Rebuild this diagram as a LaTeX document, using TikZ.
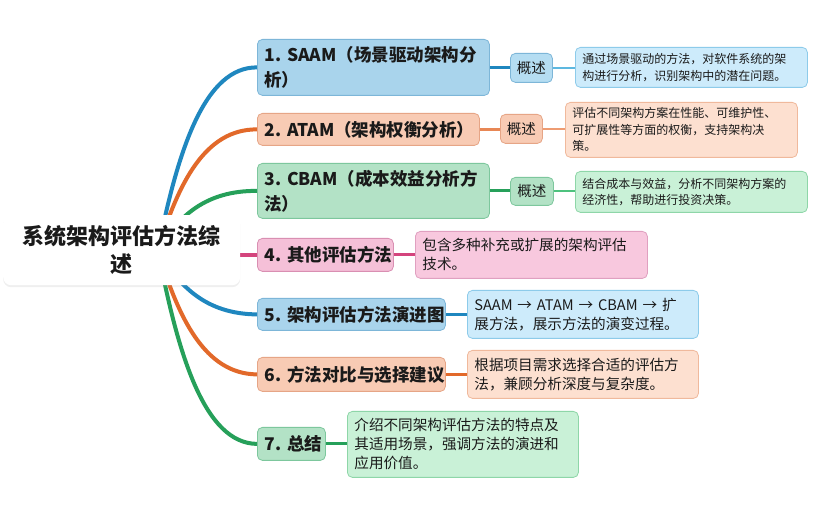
\documentclass[tikz,border=0pt]{standalone}
\usepackage{fontspec}
\setmainfont{Noto Sans CJK SC}
\usetikzlibrary{shadows}
\pgfdeclarelayer{background}
\pgfdeclarelayer{paper}
\pgfsetlayers{paper,background,main}
\definecolor{txt}{HTML}{1A1A1A}
\definecolor{bBr}{HTML}{1F87BF}
\definecolor{bF1}{HTML}{A9D4EC}
\definecolor{bD1}{HTML}{7DB6D8}
\definecolor{bF2}{HTML}{B5DDF2}
\definecolor{bF3}{HTML}{CDEBFB}
\definecolor{bD3}{HTML}{8DCBEA}
\definecolor{bLt}{HTML}{5DB8E0}
\definecolor{oBr}{HTML}{E2692A}
\definecolor{oF1}{HTML}{F8CBB4}
\definecolor{oD1}{HTML}{E6A586}
\definecolor{oF3}{HTML}{FDE0D0}
\definecolor{oD3}{HTML}{F0B99C}
\definecolor{oLt}{HTML}{EE9C72}
\definecolor{gBr}{HTML}{26A05A}
\definecolor{gF1}{HTML}{B3E2C6}
\definecolor{gD1}{HTML}{7DC79D}
\definecolor{gF3}{HTML}{C9F1D7}
\definecolor{gD3}{HTML}{8ED6A8}
\definecolor{gLt}{HTML}{4EC27E}
\definecolor{pBr}{HTML}{D4447D}
\definecolor{pF1}{HTML}{F5C0D8}
\definecolor{pD1}{HTML}{D98FB2}
\definecolor{pF3}{HTML}{F8C8DE}
\definecolor{pD3}{HTML}{E0A0C0}
\begin{document}
\begin{tikzpicture}[x=1pt,y=-1pt,
  box/.style={anchor=north west, rounded corners=5pt, inner xsep=7pt, inner ysep=0pt,
    align=left, text=txt, line width=0.8pt},
  lone/.style={box, font=\fontsize{17.5}{25}\selectfont\bfseries},
  gai/.style={box, inner xsep=0pt, align=center, font=\fontsize{14.5}{18}\selectfont},
  dsm/.style={box, font=\fontsize{12}{16.5}\selectfont},
  dlg/.style={box, font=\fontsize{14.6}{19}\selectfont},
  br/.style={line width=4pt, line cap=round},
  thk/.style={line width=3pt},
  thn/.style={line width=2pt},
]
\useasboundingbox (0,0) rectangle (828,518);
\begin{pgfonlayer}{paper}
\fill[white] (0,0) rectangle (828,518);
\end{pgfonlayer}

% root
\node[anchor=north west, fill=white, rounded corners=8pt, inner sep=0pt,
  drop shadow={opacity=0.12, shadow xshift=0pt, shadow yshift=-2pt},
  text width=237pt, minimum height=70pt, align=center, text=txt,
  font=\fontsize{22}{28}\selectfont\bfseries] (root) at (3,215) {系统架构评估方法综\\述};
\coordinate (o) at (158,250);

% level 1
\node[lone, fill=bF1, draw=bD1, text width=218pt, minimum height=56pt] (n1) at (257,39) {1.~SAAM（场景驱动架构分\\析）};
\node[lone, fill=oF1, draw=oD1, text width=208pt, minimum height=32pt] (n2) at (257,113) {2.~ATAM（架构权衡分析）};
\node[lone, fill=gF1, draw=gD1, text width=218pt, minimum height=55pt] (n3) at (257,163) {3.~CBAM（成本效益分析方\\法）};
\node[lone, fill=pF1, draw=pD1, text width=122pt, minimum height=33pt] (n4) at (257,238) {4.~其他评估方法};
\node[lone, fill=bF1, draw=bD1, text width=174pt, minimum height=32pt] (n5) at (257,298) {5.~架构评估方法演进图};
\node[lone, fill=oF1, draw=oD1, text width=174pt, minimum height=34pt] (n6) at (257,357) {6.~方法对比与选择建议};
\node[lone, fill=gF1, draw=gD1, text width=54pt, minimum height=33pt] (n7) at (257,427) {7.~总结};

% overview nodes
\node[gai, fill=bF2, draw=bD1, text width=42pt, minimum height=29pt] (g1) at (510,53) {概述};
\node[gai, fill=oF1, draw=oD1, text width=42pt, minimum height=29pt] (g2) at (500,114) {概述};
\node[gai, fill=gF1, draw=gD1, text width=43pt, minimum height=28pt] (g3) at (510,177) {概述};

% descriptions
\node[dsm, fill=bF3, draw=bD3, text width=218pt, minimum height=40pt] (d1) at (575,47) {通过场景驱动的方法，对软件系统的架\\构进行分析，识别架构中的潜在问题。};
\node[dsm, fill=oF3, draw=oD3, text width=218pt, minimum height=55pt] (d2) at (565,102) {评估不同架构方案在性能、可维护性、\\可扩展性等方面的权衡，支持架构决\\策。};
\node[dsm, fill=gF3, draw=gD3, text width=218pt, minimum height=41pt] (d3) at (575,171) {结合成本与效益，分析不同架构方案的\\经济性，帮助进行投资决策。};
\node[dlg, fill=pF3, draw=pD3, text width=218pt, minimum height=47pt] (d4) at (415,231) {包含多种补充或扩展的架构评估\\技术。};
\node[dlg, fill=bF3, draw=bD3, text width=217pt, minimum height=48pt] (d5) at (467,290) {SAAM~→~ATAM~→~CBAM~→~扩\\展方法，展示方法的演变过程。};
\node[dlg, fill=oF3, draw=oD3, text width=217pt, minimum height=48pt] (d6) at (467,350) {根据项目需求选择合适的评估方\\法，兼顾分析深度与复杂度。};
\node[dlg, fill=gF3, draw=gD3, text width=217pt, minimum height=66pt] (d7) at (347,411) {介绍不同架构评估方法的特点及\\其适用场景，强调方法的演进和\\应用价值。};

\begin{pgfonlayer}{background}
% branches
\draw[br, bBr] (o) .. controls (178,149) and (205,67) .. (n1.west);
\draw[br, oBr] (o) .. controls (178,183.5) and (205,129) .. (n2.west);
\draw[br, gBr] (o) .. controls (178,217) and (205,190.5) .. (n3.west);
\draw[br, pBr] (root.east |- n4.west) -- (n4.west);
\draw[br, bBr] (o) .. controls (178,285) and (205,314) .. (n5.west);
\draw[br, oBr] (o) .. controls (178,318) and (205,374) .. (n6.west);
\draw[br, gBr] (o) .. controls (178,356) and (205,443.5) .. (n7.west);
% connectors
\draw[thk, bBr] (n1.east) -- (n1.east -| g1.west);
\draw[thn, bLt] (g1.east) -- (g1.east -| d1.west);
\draw[thk, oBr!80] (n2.east) -- (n2.east -| g2.west);
\draw[thn, oLt] (g2.east) -- (g2.east -| d2.west);
\draw[thk, gBr] (n3.east) -- (n3.east -| g3.west);
\draw[thn, gLt] (g3.east) -- (g3.east -| d3.west);
\draw[thk, pBr] (n4.east) -- (n4.east -| d4.west);
\draw[thk, bBr] (n5.east) -- (n5.east -| d5.west);
\draw[thk, oBr] (n6.east) -- (n6.east -| d6.west);
\draw[thk, gBr] (n7.east) -- (n7.east -| d7.west);
\end{pgfonlayer}
\end{tikzpicture}
\end{document}
